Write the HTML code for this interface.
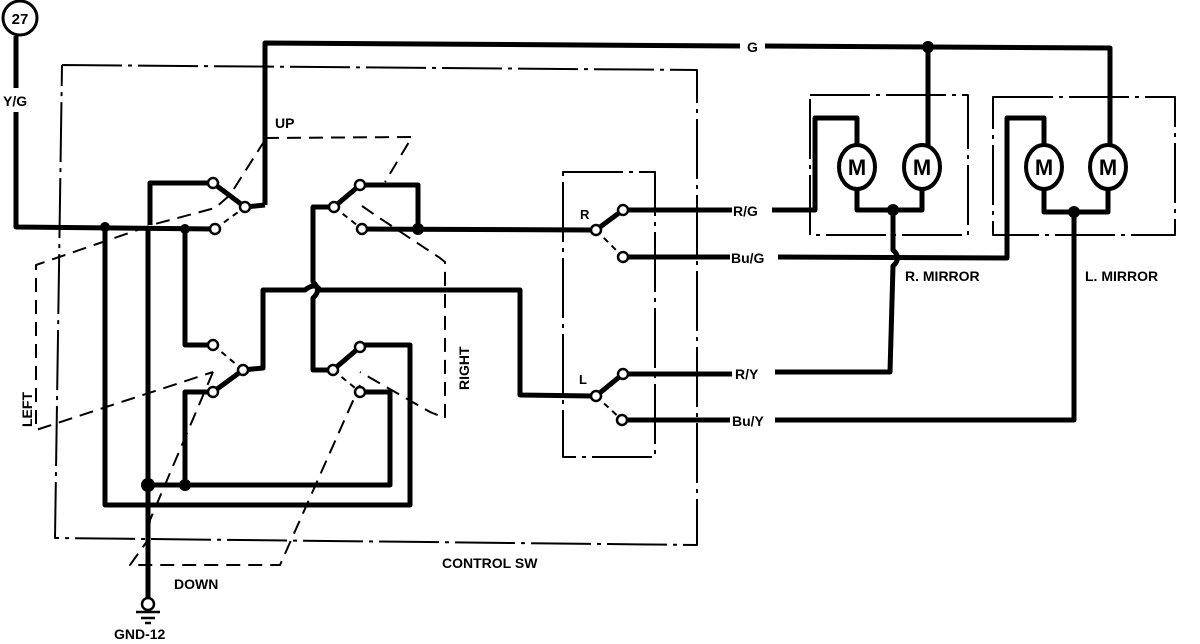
<!DOCTYPE html>
<html><head><meta charset="utf-8"><style>
html,body{margin:0;padding:0;background:#fff;width:1200px;height:644px;overflow:hidden}
text{font-family:"Liberation Sans",sans-serif;font-weight:bold;fill:#000}
</style></head><body>
<svg width="1200" height="644" viewBox="0 0 1200 644" xmlns="http://www.w3.org/2000/svg">
<g fill="none" stroke="#000" stroke-linejoin="round">
<g stroke-width="2" stroke-dasharray="60,6,4,6">
<path d="M62,65 L697,70 L697,545 L55,538 L62,65"/>
<path d="M563,172 L655,172 L655,457 L563,457 Z"/>
<path d="M810,95 L968,95 L968,235 L810,235 Z"/>
<path d="M993,97 L1175,97 L1175,235 L993,235 Z"/>
</g>
<g stroke-width="2" stroke-dasharray="14,8">
<path d="M265,138 L412,137 L385,182"/>
<path d="M265,140 L230,195 L215,208 L155,224 L36,265 L36,430 L213,372"/>
<path d="M362,206 L375,215 L440,258 L445,262 L445,418 L430,412 L360,372"/>
<path d="M213,372 L150,520 L148,540 L130,565 L280,565 L360,385"/>
</g>
<g stroke-width="5">
<path d="M16,36 L16,88"/><path d="M16,112 L16,227 L215,229"/>
<path d="M265,205 L265,43 L740,46"/><path d="M765,46 L1110,48 L1110,145"/>
<path d="M928,47 L928,145"/>
<path d="M150,225 L150,183 L213,183 L245,207 L265,205"/>
<path d="M185,229 L185,345 L213,345"/>
<path d="M243,370 L263,368 L263,290 L305,290 Q315,282 320,290 L520,290 L520,395 L592,396"/>
<path d="M213,392 L185,392 L185,485"/>
<path d="M148,229 L148,600"/>
<path d="M148,485 L390,485 L390,392 L362,392"/>
<path d="M105,227 L105,505 L410,505 L410,345 L362,345"/>
<path d="M334,207 L313,207 L313,282 Q322,290 313,298 L313,370 L333,370 L360,347"/>
<path d="M243,370 L213,392"/>
<path d="M334,207 L360,185 L418,185 L418,229"/>
<path d="M362,229 L592,230"/>
<path d="M596,230 L623,210"/>
<path d="M596,396 L623,374"/>
<path d="M627,210 L732,210"/><path d="M772,210 L815,210 L815,118 L857,118 L857,145"/>
<path d="M627,257 L730,257"/><path d="M778,257 L1007,258 L1007,118 L1044,118 L1044,145"/>
<path d="M857,190 L857,210 L922,210 L922,190"/>
<path d="M893,210 L893,250 Q902,258 893,266 L890,372 L775,372"/>
<path d="M627,374 L732,374"/>
<path d="M627,420 L730,420"/><path d="M775,420 L1074,420 L1074,212"/>
<path d="M1044,190 L1044,212 L1108,212 L1108,190"/>
</g>
<g stroke-width="2" stroke-dasharray="6,5">
<path d="M596,230 L623,257"/><path d="M596,396 L622,420"/>
<path d="M215,229 L245,207"/><path d="M213,345 L243,370"/>
<path d="M334,207 L362,229"/><path d="M333,370 L360,392"/>
</g>
<g stroke-width="4">
<ellipse cx="857" cy="167" rx="18" ry="22"/><ellipse cx="922" cy="167" rx="18" ry="22"/>
<ellipse cx="1044" cy="167" rx="18" ry="22"/><ellipse cx="1108" cy="167" rx="18" ry="22"/>
<circle cx="20" cy="18" r="17" stroke-width="3"/>
</g>
<g stroke-width="2.5" fill="#fff">
<circle cx="213" cy="183" r="5"/><circle cx="245" cy="207" r="5"/><circle cx="215" cy="229" r="5"/>
<circle cx="213" cy="345" r="5"/><circle cx="243" cy="370" r="5"/><circle cx="213" cy="392" r="5"/>
<circle cx="360" cy="185" r="5"/><circle cx="334" cy="207" r="5"/><circle cx="362" cy="229" r="5"/>
<circle cx="360" cy="347" r="5"/><circle cx="333" cy="370" r="5"/><circle cx="360" cy="392" r="5"/>
<circle cx="623" cy="210" r="5"/><circle cx="596" cy="230" r="5"/><circle cx="623" cy="257" r="5"/>
<circle cx="623" cy="374" r="5"/><circle cx="596" cy="396" r="5"/><circle cx="622" cy="420" r="5"/>
<circle cx="148" cy="604" r="6"/>
</g>
<path d="M136,612 L160,612 M141,618 L155,618 M145,623 L151,623" stroke-width="2.5"/>
</g>
<g fill="#000">
<circle cx="105" cy="227" r="5"/><circle cx="185" cy="229" r="5"/><circle cx="418" cy="229" r="6"/>
<circle cx="148" cy="485" r="7"/><circle cx="185" cy="485" r="6"/>
<circle cx="928" cy="47" r="6"/><circle cx="893" cy="210" r="6"/><circle cx="1074" cy="212" r="6"/>
</g>
<text x="20" y="24" font-size="15" text-anchor="middle">27</text>
<text x="3" y="106" font-size="14">Y/G</text>
<text x="275" y="128" font-size="14">UP</text>
<text x="747" y="52" font-size="14">G</text>
<text x="733" y="216" font-size="14">R/G</text>
<text x="731" y="263" font-size="14">Bu/G</text>
<text x="735" y="379" font-size="14">R/Y</text>
<text x="732" y="426" font-size="14">Bu/Y</text>
<text x="580" y="219" font-size="13">R</text>
<text x="579" y="384" font-size="13">L</text>
<text x="905" y="281" font-size="14">R. MIRROR</text>
<text x="1085" y="281" font-size="14">L. MIRROR</text>
<text x="442" y="568" font-size="14">CONTROL SW</text>
<text x="174" y="589" font-size="14">DOWN</text>
<text x="114" y="639" font-size="14">GND-12</text>
<text transform="translate(32,427) rotate(-90)" font-size="14">LEFT</text>
<text transform="translate(469,390) rotate(-90)" font-size="14">RIGHT</text>
<g font-size="22" text-anchor="middle" font-family="Liberation Sans">
<text x="857" y="175">M</text><text x="922" y="175">M</text>
<text x="1044" y="175">M</text><text x="1108" y="175">M</text>
</g>
</svg>
</body></html>
